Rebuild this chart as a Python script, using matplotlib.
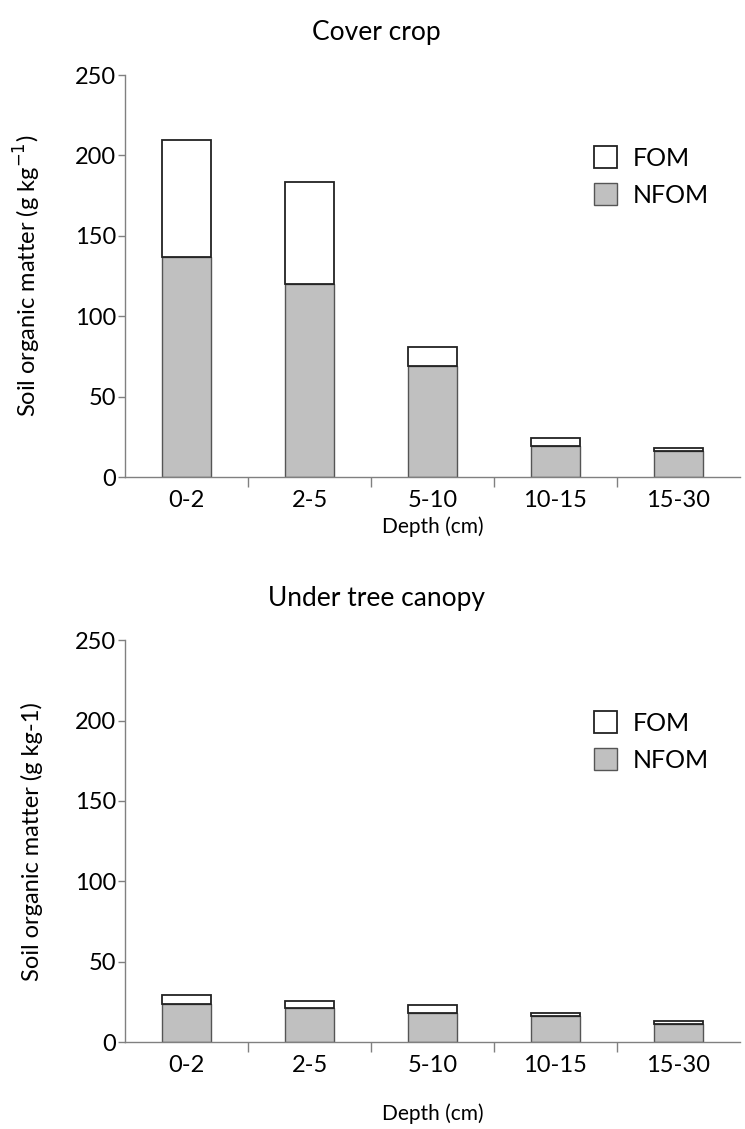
import matplotlib
matplotlib.use("Agg")
import matplotlib.pyplot as plt
from matplotlib.patches import Patch
import numpy as np

plt.rcParams['font.family'] = ['Lato', 'DejaVu Sans']

depths = ["0-2", "2-5", "5-10", "10-15", "15-30"]
cover_nfom = [136.7, 120.1, 68.8, 19.5, 16.2]
cover_total = [209.6, 183.3, 81.0, 24.2, 18.3]
tree_nfom = [23.4, 20.9, 18.0, 16.2, 11.4]
tree_total = [29.0, 25.5, 23.2, 17.8, 13.2]
yticks = [0, 50, 100, 150, 200, 250]

fig = plt.figure(figsize=(7.45, 11.29), dpi=100)

specs = [
    dict(rect=[0.168, 0.5775, 0.825, 0.356], title="Cover crop", title_y=0.971,
         ylabel="Soil organic matter (g kg$^{-1}$)", nfom=cover_nfom, total=cover_total,
         xlabelpad=4),
    dict(rect=[0.168, 0.0770, 0.825, 0.356], title="Under tree canopy", title_y=0.470,
         ylabel="Soil organic matter (g kg-1)", nfom=tree_nfom, total=tree_total,
         xlabelpad=20),
]

edge = "#222222"
gray = "#c0c0c0"
spine_c = "#808080"

for s in specs:
    ax = fig.add_axes(s["rect"])
    x = np.arange(len(depths))
    nfom = np.array(s["nfom"])
    fom = np.array(s["total"]) - nfom
    ax.bar(x, nfom, width=0.4, color=gray, edgecolor="#555555", linewidth=1.0, zorder=2)
    ax.bar(x, fom, bottom=nfom, width=0.4, color="white", edgecolor=edge, linewidth=1.3, zorder=2)
    ax.set_xlim(-0.5, len(depths) - 0.5)
    ax.set_ylim(0, 250)
    ax.set_yticks(yticks)
    ax.set_yticklabels([str(v) for v in yticks], fontsize=17)
    ax.set_xticks(np.arange(0.5, len(depths) - 0.5, 1.0))
    ax.set_xticks(x, minor=True)
    ax.set_xticklabels([])
    ax.set_xticklabels(depths, minor=True, fontsize=17)
    ax.tick_params(axis='x', which='major', direction='out', length=7, color=spine_c, width=1)
    ax.tick_params(axis='x', which='minor', length=0, pad=9)
    ax.tick_params(axis='y', direction='out', length=5, color=spine_c, width=1, pad=1.5)
    for side in ['top', 'right']:
        ax.spines[side].set_visible(False)
    for side in ['left', 'bottom']:
        ax.spines[side].set_color(spine_c)
        ax.spines[side].set_linewidth(1)
    ax.set_xlabel("Depth (cm)", fontsize=15, labelpad=s["xlabelpad"])
    ax.set_ylabel(s["ylabel"], fontsize=17, labelpad=23)
    handles = [Patch(facecolor="white", edgecolor=edge, linewidth=1.3, label="FOM"),
               Patch(facecolor=gray, edgecolor="#555555", linewidth=1.0, label="NFOM")]
    ax.legend(handles=handles, loc="upper left", bbox_to_anchor=(0.762, 0.823),
              frameon=False, fontsize=18, handlelength=0.95, handleheight=0.95,
              labelspacing=0.55, handletextpad=0.6, borderpad=0, borderaxespad=0)
    fig.text(0.505, s["title_y"], s["title"], ha="center", va="center", fontsize=19)

fig.savefig("out.png", dpi=100, facecolor="white")
